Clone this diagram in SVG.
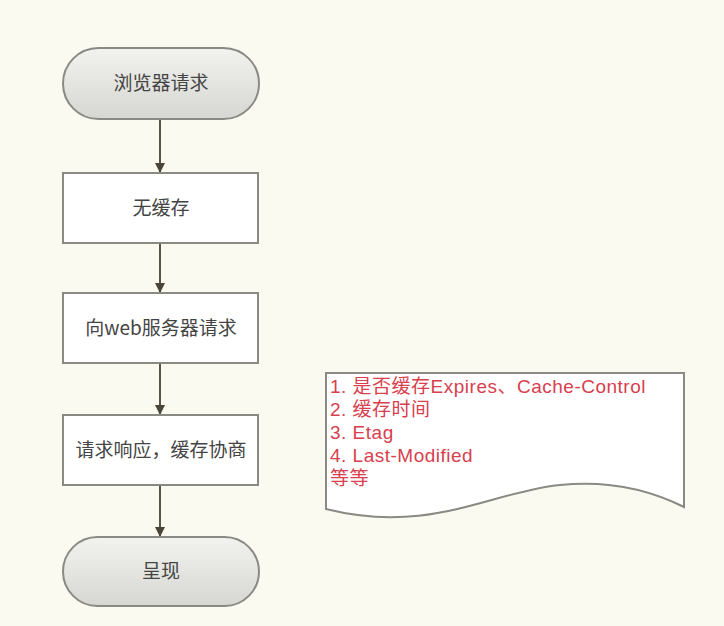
<svg xmlns="http://www.w3.org/2000/svg" width="724" height="626" viewBox="0 0 724 626">
<defs>
<linearGradient id="term" x1="0" y1="0" x2="0" y2="1">
<stop offset="0" stop-color="#f2f2ee"/>
<stop offset="1" stop-color="#d6d6d2"/>
</linearGradient>
<marker id="arr" markerWidth="10" markerHeight="10" refX="9" refY="5" orient="auto" markerUnits="userSpaceOnUse">
<path d="M0,0 L10,5 L0,10 Z" fill="#4a4636"/>
</marker>
<style>
.term{fill:url(#term);stroke:#8a8a84;stroke-width:2}
.box{fill:#ffffff;stroke:#8a8a84;stroke-width:2}
.lbl{font-family:"Noto Sans CJK SC","Liberation Sans",sans-serif;font-size:19px;fill:#444;text-anchor:middle}
.note{font-family:"Liberation Sans","Noto Sans CJK SC",sans-serif;font-size:19px;letter-spacing:0.5px;fill:#d8404e}
.conn{stroke:#5a5444;stroke-width:2;fill:none;marker-end:url(#arr)}
</style>
</defs>
<rect width="724" height="626" fill="#fbfaf1"/>
<g id="connectors">
<line class="conn" x1="160" y1="119" x2="160" y2="172"/>
<line class="conn" x1="160" y1="243" x2="160" y2="292"/>
<line class="conn" x1="160" y1="363" x2="160" y2="414"/>
<line class="conn" x1="160" y1="485" x2="160" y2="536"/>
</g>
<g id="n1">
<rect class="term" x="63" y="48" width="196" height="71" rx="35.5"/>
<text class="lbl" x="161" y="90">浏览器请求</text>
</g>
<g id="n2">
<rect class="box" x="63" y="173" width="195" height="70"/>
<text class="lbl" x="161" y="215">无缓存</text>
</g>
<g id="n3">
<rect class="box" x="63" y="293" width="195" height="70"/>
<text class="lbl" x="161" y="335">向web服务器请求</text>
</g>
<g id="n4">
<rect class="box" x="63" y="415" width="195" height="70"/>
<text class="lbl" x="161" y="457">请求响应，缓存协商</text>
</g>
<g id="n5">
<rect class="term" x="63" y="537" width="196" height="69" rx="34.5"/>
<text class="lbl" x="161" y="578">呈现</text>
</g>
<g id="note">
<path d="M326,373 L684,373 L684,507 C650,490 610,480 560,485 C490,492 430,535 326,509 Z" fill="#ffffff" stroke="#8a8a84" stroke-width="2"/>
<text class="note" x="330" y="393">1. 是否缓存Expires、Cache-Control</text>
<text class="note" x="330" y="416">2. 缓存时间</text>
<text class="note" x="330" y="439">3. Etag</text>
<text class="note" x="330" y="462">4. Last-Modified</text>
<text class="note" x="330" y="485">等等</text>
</g>
</svg>
